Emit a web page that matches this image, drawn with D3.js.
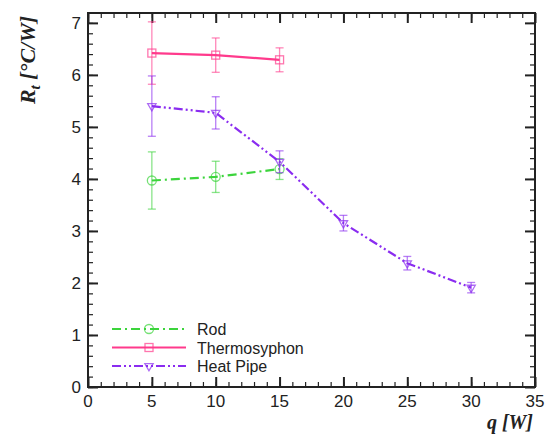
<!DOCTYPE html>
<html>
<head>
<meta charset="utf-8">
<script src="https://cdn.jsdelivr.net/npm/d3@7"></script>
<style>
  body { margin: 0; background: #fff; }
  text { font-family: "Liberation Sans", Arial, sans-serif; }
</style>
</head>
<body>
<div id="chart"></div>
<script>
// data
var q = [5, 10, 15, 20, 25, 30];
var rodQ = [5, 10, 15];
var rodR = [3.97, 4.04, 4.19];
var rodErr = [0.55, 0.3, 0.2];
var thermoQ = [5, 10, 15];
var thermoR = [6.42, 6.38, 6.29];
var thermoErr = [0.6, 0.33, 0.23];
var pipeQ = q;
var pipeR = [5.4, 5.27, 4.33, 3.15, 2.38, 1.91];
var pipeErr = [0.58, 0.31, 0.21, 0.15, 0.13, 0.1];
var xTicks = [0, 5, 10, 15, 20, 25, 30, 35];
var yTicks = [0, 1, 2, 3, 4, 5, 6, 7];

var W = 549, H = 436;
var margin = {top: 13, right: 14, bottom: 49, left: 88},
    width = W - margin.left - margin.right,
    height = H - margin.top - margin.bottom;

var svg = d3.select("#chart").append("svg")
    .attr("width", W)
    .attr("height", H);

var g = svg.append("g")
    .attr("transform", "translate(" + margin.left + "," + margin.top + ")");

var x = d3.scaleLinear().domain([0, 35]).range([0, width]);
var y = d3.scaleLinear().domain([0, 7.19]).range([height, 0]);

// minor ticks
var xMinor = d3.range(0, 35.01, 1);
var yMinor = d3.range(0, 7.19, 0.2);

function tickAxis(axis, scale, vals, len) {
  return axis(scale).tickValues(vals).tickSize(len).tickFormat("");
}

// bottom
g.append("g").attr("transform", "translate(0," + height + ")")
  .call(tickAxis(d3.axisTop, x, xMinor, 5)).attr("class", "ax");
g.append("g").attr("transform", "translate(0," + height + ")")
  .call(tickAxis(d3.axisTop, x, xTicks, 10)).attr("class", "ax");
// top
g.append("g").call(tickAxis(d3.axisBottom, x, xMinor, 5)).attr("class", "ax");
g.append("g").call(tickAxis(d3.axisBottom, x, xTicks, 10)).attr("class", "ax");
// left
g.append("g").call(tickAxis(d3.axisRight, y, yMinor, 5)).attr("class", "ax");
g.append("g").call(tickAxis(d3.axisRight, y, yTicks, 10)).attr("class", "ax");
// right
g.append("g").attr("transform", "translate(" + width + ",0)")
  .call(tickAxis(d3.axisLeft, y, yMinor, 5)).attr("class", "ax");
g.append("g").attr("transform", "translate(" + width + ",0)")
  .call(tickAxis(d3.axisLeft, y, yTicks, 10)).attr("class", "ax");

g.selectAll(".ax .domain").remove();
g.selectAll(".ax line").attr("stroke", "#222").attr("stroke-width", 1.2);
g.selectAll(".ax line").filter(function() {
  return Math.abs(+d3.select(this).attr("x2") || +d3.select(this).attr("y2")) > 7;
}).attr("stroke-width", 2);

// frame
g.append("rect")
  .attr("width", width).attr("height", height)
  .attr("fill", "none").attr("stroke", "#222").attr("stroke-width", 2);

// tick labels
g.selectAll(".xl").data(xTicks).enter().append("text")
  .attr("x", d => x(d)).attr("y", height + 20)
  .attr("text-anchor", "middle")
  .style("font-size", "17px").attr("fill", "#222")
  .text(d => d);
g.selectAll(".yl").data(yTicks).enter().append("text")
  .attr("x", -7).attr("y", d => y(d) + 6)
  .attr("text-anchor", "end")
  .style("font-size", "17px").attr("fill", "#222")
  .text(d => d);

// axis titles
var yt = svg.append("text")
  .attr("transform", "translate(35,60) rotate(-90)")
  .attr("text-anchor", "middle")
  .style("font-family", "'Liberation Serif', 'Times New Roman', serif")
  .style("font-size", "22px").style("font-style", "italic").style("font-weight", "bold")
  .attr("fill", "#222");
yt.append("tspan").text("R");
yt.append("tspan").attr("dy", 5).style("font-size", "15px").text("t");
yt.append("tspan").attr("dy", -5).text(" [°C/W]");

var xt = svg.append("text")
  .attr("x", 533).attr("y", 429)
  .attr("text-anchor", "end")
  .style("font-family", "'Liberation Serif', 'Times New Roman', serif")
  .style("font-size", "20px").style("font-style", "italic").style("font-weight", "bold")
  .attr("fill", "#222")
  .text("q  [W]");

var series = [
  {name: "Rod", qs: rodQ, rs: rodR, err: rodErr, color: "#3cd43c", dash: "9,4,2,4", marker: "circle"},
  {name: "Thermosyphon", qs: thermoQ, rs: thermoR, err: thermoErr, color: "#ff3a8c", dash: null, marker: "square"},
  {name: "Heat Pipe", qs: pipeQ, rs: pipeR, err: pipeErr, color: "#8a2cf0", dash: "9,3,2,3,2,3", marker: "triangle"}
];

var line = d3.line().x(d => x(d[0])).y(d => y(d[1]));

function drawMarker(sel, type, cx, cy, color) {
  if (type === "circle") {
    sel.append("circle").attr("cx", cx).attr("cy", cy).attr("r", 4.5)
      .attr("fill", "none").attr("stroke", color).attr("stroke-width", 1.3).attr("opacity", 0.7);
  } else if (type === "square") {
    sel.append("rect").attr("x", cx - 4).attr("y", cy - 4).attr("width", 8).attr("height", 8)
      .attr("fill", "none").attr("stroke", color).attr("stroke-width", 1.3).attr("opacity", 0.7);
  } else {
    sel.append("path").attr("d", d3.symbol().type(d3.symbolTriangle).size(30)())
      .attr("transform", "translate(" + cx + "," + cy + ") rotate(180)")
      .attr("fill", "none").attr("stroke", color).attr("stroke-width", 1.3).attr("opacity", 0.7);
  }
}

series.forEach(function(s) {
  var pts = s.qs.map((v, i) => [v, s.rs[i], s.err[i]]);
  var sg = g.append("g");
  // error bars
  pts.forEach(function(p) {
    var cx = x(p[0]), top = y(p[1] + p[2]), bot = y(p[1] - p[2]);
    sg.append("line").attr("x1", cx).attr("x2", cx).attr("y1", top).attr("y2", bot)
      .attr("stroke", s.color).attr("stroke-width", 1.3).attr("opacity", 0.6);
    [top, bot].forEach(function(yy) {
      sg.append("line").attr("x1", cx - 4).attr("x2", cx + 4).attr("y1", yy).attr("y2", yy)
        .attr("stroke", s.color).attr("stroke-width", 1.3).attr("opacity", 0.6);
    });
  });
  sg.append("path").datum(pts).attr("d", line)
    .attr("fill", "none").attr("stroke", s.color).attr("stroke-width", 2.2)
    .attr("stroke-dasharray", s.dash);
  pts.forEach(function(p) { drawMarker(sg, s.marker, x(p[0]), y(p[1]), s.color); });
});

// legend
var legend = svg.append("g");
series.forEach(function(s, i) {
  var ly = 329 + i * 18.5;
  legend.append("line").attr("x1", 112).attr("x2", 186).attr("y1", ly).attr("y2", ly)
    .attr("stroke", s.color).attr("stroke-width", 2.2).attr("stroke-dasharray", s.dash);
  drawMarker(legend, s.marker, 149, ly, s.color);
  legend.append("text").attr("x", 197).attr("y", ly + 6)
    .style("font-size", "16px").attr("fill", "#222").text(s.name);
});
</script>
</body>
</html>
